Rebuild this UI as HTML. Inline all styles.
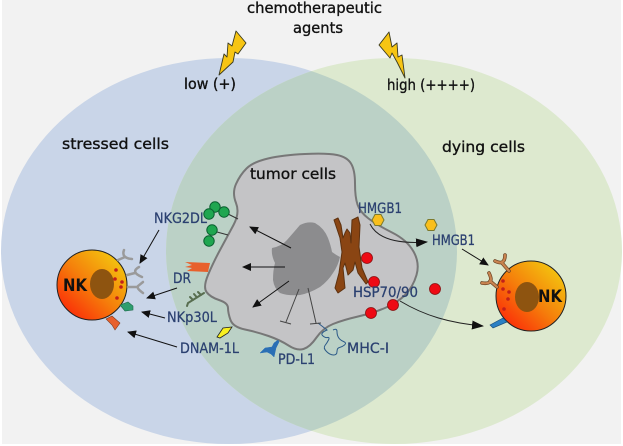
<!DOCTYPE html>
<html>
<head>
<meta charset="utf-8">
<style>
html,body{margin:0;padding:0;background:#fff;width:623px;height:446px;overflow:hidden}
svg{display:block;filter:blur(0.35px)}
text{font-family:"DejaVu Sans","Liberation Sans",sans-serif}
.k{fill:#111;font-size:15.5px;stroke:#111;stroke-width:0.35px}
.b{fill:#2b4070;font-size:14px;stroke:#2b4070;stroke-width:0.25px}
</style>
</head>
<body>
<svg width="623" height="446" viewBox="0 0 623 446" xmlns="http://www.w3.org/2000/svg">
<defs>
<clipPath id="c"><ellipse cx="229" cy="251" rx="228" ry="193"/></clipPath>
<linearGradient id="nk" x1="0.1" y1="0.9" x2="0.85" y2="0.1">
<stop offset="0" stop-color="#fb2a08"/><stop offset="0.5" stop-color="#f57f0b"/><stop offset="1" stop-color="#f3c30f"/>
</linearGradient>
<marker id="a" markerWidth="9" markerHeight="8" refX="8" refY="4" orient="auto" markerUnits="userSpaceOnUse"><path d="M0,0L9,4L0,8Z" fill="#111"/></marker>
<marker id="a2" markerWidth="12" markerHeight="9" refX="11" refY="4.5" orient="auto" markerUnits="userSpaceOnUse"><path d="M0,0L12,4.5L0,9Z" fill="#111"/></marker>
</defs>
<rect x="2" y="0" width="619" height="444" fill="#f2f2f2"/>
<ellipse cx="229" cy="251" rx="228" ry="193" fill="#c9d5e8"/>
<ellipse cx="394" cy="251" rx="228" ry="193" fill="#dde9cf"/>
<ellipse cx="394" cy="251" rx="228" ry="193" fill="#bbd1c6" clip-path="url(#c)"/>

<path d="M236,184Q240,175 246.5,168.5Q253,162 268,158.5Q283,155 305,154Q327,153 337,155Q347,157 351,163.5Q355,170 355,183.5Q355,197 357.5,204.5Q360,212 368.5,218.5Q377,225 392,232.5Q407,240 413.5,251.5Q420,263 416.5,275Q413,287 405,295Q397,303 385,308Q373,313 358,316.5Q343,320 333,324Q323,328 316.5,337.5Q310,347 303.5,349Q297,351 288.5,345.5Q280,340 268.5,336Q257,332 245,329.5Q233,327 230.5,320Q228,313 228,308Q228,303 219,300Q210,297 206.5,292Q203,287 208,275Q213,263 220,250Q227,237 233.5,225Q240,213 236,203Q232,193 236,184Z" fill="#c4c4c6" stroke="#777" stroke-width="2"/>
<path d="M272,248Q282,246 287,240Q294,232 300,225Q308,221 315,223Q324,228 328,238Q331,246 332,252Q336,255 340,257Q338,266 333,273Q328,281 320,287Q310,293 300,295Q288,296 280,293Q274,288 273,280Q273,270 275,263Q271,255 272,248Z" fill="#8c8c8e"/>
<path d="M334,220L338,218L341,225L343,238L345,233L347,229L350,233L351,243L352,220L358,217L360,225L359,247L362,268L368,282L366,284L358,273L355,262L353,270L348,275L345,263L343,268L345,288L338,293L335,288L339,273L342,252L340,238Z" fill="#8a4513" stroke="#5e3210" stroke-width="1" stroke-linejoin="round"/>

<g fill="#ee0a14" stroke="#8a1010" stroke-width="0.8">
<circle cx="367" cy="258" r="5.5"/><circle cx="374" cy="282" r="5.5"/><circle cx="393" cy="305" r="5.5"/><circle cx="371" cy="313" r="5.5"/><circle cx="435" cy="289" r="5.5"/>
</g>
<g fill="#f9bf1c" stroke="#7d7a2c" stroke-width="1">
<path d="M372,220L375,214.500L381,214.500L384,220L381,225.500L375,225.500Z"/>
<path d="M425,225L428,219.500L434,219.500L437,225L434,230.500L428,230.500Z"/>
</g>

<g stroke="#333" stroke-width="1" fill="none">
<path d="M224,212L238,219M217,232L228,235"/>
</g>
<g fill="#1fa650" stroke="#0a6030" stroke-width="1">
<circle cx="215" cy="207" r="5.200"/><circle cx="209" cy="214" r="5.200"/><circle cx="224" cy="212" r="5.200"/><circle cx="212" cy="230" r="5.200"/><circle cx="209" cy="241" r="5.200"/>
</g>

<!-- left NK -->
<circle cx="92" cy="285" r="35" fill="url(#nk)" stroke="#222" stroke-width="1"/>
<ellipse cx="102" cy="284" rx="12" ry="15" fill="#8e5410"/>
<g fill="#c2201a"><circle cx="116" cy="270" r="1.800"/><circle cx="115" cy="279" r="1.800"/><circle cx="122" cy="282" r="1.800"/><circle cx="121" cy="287" r="1.800"/><circle cx="117" cy="298" r="1.800"/></g>
<g fill="none" stroke="#9a9a9a" stroke-width="2.500" stroke-linecap="round">
<path d="M118,260L125,257M124,250Q121,258 132,259"/>
<path d="M127,275L135,273M139,267Q130,272 142,277"/>
<path d="M128,287L137,287M143,282L138,286Q136,288 143,293"/>
</g>
<path d="M120,305L128,302L133,306L133,310L125,311Z" fill="#2e9e6f" stroke="#1d6a4a" stroke-width="0.6"/>
<path d="M106,319L112,316L120,323L115,330L112,325Z" fill="#e8602c" stroke="#7c3a1c" stroke-width="0.6"/>

<!-- tumor ligands -->
<path d="M185,262L210,263L208,272L187,271L192,268L185,267L192,265Z" fill="#e8602c"/>
<g fill="none" stroke="#586e50" stroke-width="2" stroke-linecap="round">
<path d="M204,293L188,303L187,306M193,300L190,297M197,297.500L194,294M201,295L198,292"/>
</g>
<path d="M217,337L223,328L232,327L228,333L220,338Z" fill="#f8f020" stroke="#222" stroke-width="0.8"/>
<path d="M260,353L265,348L272,347L274,343L278,340L279,342L276,348L274,357L271,354L267,352Z" fill="#2a6fb5" stroke="#2a6fb5" stroke-width="0.5" stroke-linejoin="round"/>
<path d="M318,323L327,330Q320,333 322.5,335.5Q325,338 327.5,337.5Q330,337 328.5,340Q327,343 325,345.5Q323,348 326.5,351.5Q330,355 333.5,355Q337,355 337,351.5Q337,348 339.5,347.5Q342,347 344.5,345Q347,343 343.5,341.5Q340,340 338.5,337.5Q337,335 337,331.5Q337,328 333,330" fill="none" stroke="#2c5a88" stroke-width="1"/>

<!-- right NK -->
<circle cx="531" cy="296" r="35" fill="url(#nk)" stroke="#222" stroke-width="1"/>
<ellipse cx="527" cy="297" rx="12" ry="15" fill="#8e5410"/>
<g fill="#c2201a"><circle cx="503" cy="281" r="1.800"/><circle cx="503" cy="289" r="1.800"/><circle cx="509" cy="292" r="1.800"/><circle cx="508" cy="299" r="1.800"/><circle cx="504" cy="309" r="1.800"/></g>
<g fill="none" stroke="#6a4020" stroke-width="3.600" stroke-linecap="round">
<path d="M495,261Q505,266 505,255M509,271L502,263M482,283Q495,285 489,273M497,287L490,281"/>
</g>
<g fill="none" stroke="#c98450" stroke-width="2.200" stroke-linecap="round">
<path d="M495,261Q505,266 505,255M509,271L502,263M482,283Q495,285 489,273M497,287L490,281"/>
</g>
<path d="M490,325L503,318L507,322L493,328Z" fill="#2a80c4" stroke="#1c4f7a" stroke-width="0.7"/>

<!-- arrows -->
<g stroke="#111" stroke-width="1" fill="none" marker-end="url(#a)">
<path d="M159,230L140,263"/><path d="M177,288L147,298"/><path d="M165,318L142,312"/><path d="M177,347L128,332"/>
<path d="M291,248L250,227"/><path d="M285,267L243,267"/><path d="M289,281L253,307"/>
<path d="M462,249L488,265"/>
</g>
<g stroke="#222" stroke-width="1" fill="none">
<path d="M370,224C378,240 400,244 427,242" marker-end="url(#a2)"/>
<path d="M400,301C425,316 450,323 483,326" marker-end="url(#a2)"/>
<path d="M299,289L286,322M280,321L291,324M308,288L316,323M310,324L321,323" stroke="#444"/>
</g>

<!-- bolts -->
<path d="M236,31L246,43L238,54L235,52L233,62L219,75L224,54L227,57L228,43L232,46Z" fill="#f7c513" stroke="#3a3a20" stroke-width="0.9" stroke-linejoin="round"/>
<path d="M389,32L379,45L390,58L392,53L397,62L405,78L402,55L398,57L397,43L392,47Z" fill="#f7c513" stroke="#3a3a20" stroke-width="0.9" stroke-linejoin="round"/>

<!-- black labels -->
<text class="k" x="247" y="13" textLength="135" lengthAdjust="spacingAndGlyphs">chemotherapeutic</text>
<text class="k" x="293" y="33" textLength="50" lengthAdjust="spacingAndGlyphs">agents</text>
<text class="k" x="184" y="89" textLength="52" lengthAdjust="spacingAndGlyphs">low (+)</text>
<text class="k" x="387" y="90" textLength="88" lengthAdjust="spacingAndGlyphs">high (++++)</text>
<text class="k" x="62" y="149" textLength="107" lengthAdjust="spacingAndGlyphs">stressed cells</text>
<text class="k" x="442" y="152" textLength="83" lengthAdjust="spacingAndGlyphs">dying cells</text>
<text class="k" x="250" y="179" textLength="86" lengthAdjust="spacingAndGlyphs">tumor cells</text>
<text x="63" y="291" textLength="24" lengthAdjust="spacingAndGlyphs" font-size="17" font-weight="bold" fill="#111">NK</text>
<text x="538" y="302" textLength="24" lengthAdjust="spacingAndGlyphs" font-size="17" font-weight="bold" fill="#111">NK</text>

<!-- blue labels -->
<text class="b" x="154" y="223" textLength="53" lengthAdjust="spacingAndGlyphs">NKG2DL</text>
<text class="b" x="173" y="283" textLength="18" lengthAdjust="spacingAndGlyphs">DR</text>
<text class="b" x="167" y="322" textLength="50" lengthAdjust="spacingAndGlyphs">NKp30L</text>
<text class="b" x="180" y="353" textLength="59" lengthAdjust="spacingAndGlyphs">DNAM-1L</text>
<text class="b" x="278" y="364" textLength="37" lengthAdjust="spacingAndGlyphs">PD-L1</text>
<text class="b" x="347" y="353" textLength="42" lengthAdjust="spacingAndGlyphs">MHC-I</text>
<text class="b" x="358" y="213" textLength="44" lengthAdjust="spacingAndGlyphs">HMGB1</text>
<text class="b" x="432" y="245" textLength="43" lengthAdjust="spacingAndGlyphs">HMGB1</text>
<text class="b" x="353" y="297" textLength="65" lengthAdjust="spacingAndGlyphs">HSP70/90</text>
</svg>
</body>
</html>
